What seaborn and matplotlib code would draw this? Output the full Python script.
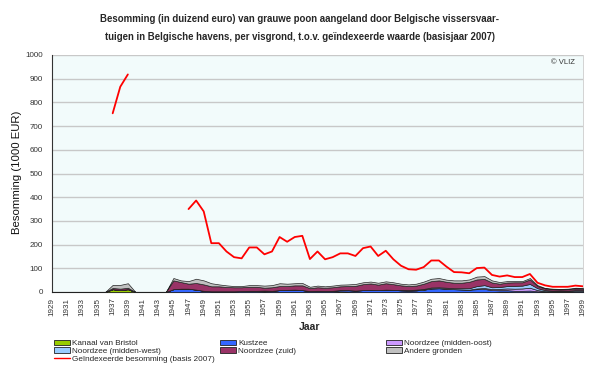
import numpy as np
import pandas as pd
import matplotlib
matplotlib.use("Agg")
import matplotlib.pyplot as plt
import matplotlib.patches as mpatches
import matplotlib.lines as mlines
import seaborn as sns

years = list(range(1929, 2000))

# 1929-1935 (7), 1936, 1937-1939, 1940-1944 (5), 1945-1999 (55)
kanaal_van_bristol = ([0]*7 + [0] + [12, 8, 12] + [0]*5 +
    [0, 0, 0, 0, 0, 0, 0, 0, 0, 0, 0, 0, 2, 0, 0, 0, 0, 0, 0, 0, 0, 0, 3, 2, 0, 0,
     0, 0, 0, 0, 0, 0, 0, 0, 0, 0, 0, 0, 0, 0, 0, 0, 0, 2, 2, 0, 0, 0, 0, 0, 0, 0, 0, 0, 0])
kustzee = ([0]*7 + [0] + [0, 0, 0] + [0]*5 +
    [12, 14, 14, 10, 5, 3, 3, 3, 3, 4, 5, 5, 4, 5, 8, 9, 10, 8, 4, 5, 4, 5, 5, 6, 6,
     8, 9, 8, 10, 9, 7, 6, 7, 10, 15, 16, 14, 12, 11, 10, 12, 13, 8, 6, 6, 5, 5, 6, 3, 2, 2, 2, 2, 3, 3])
noordzee_midden_oost = ([0]*7 + [0] + [0, 0, 0] + [0]*5 +
    [0]*40 + [3, 4, 4, 5, 7, 9, 10, 12, 5, 2, 1, 1, 1, 1, 1])
noordzee_midden_west = ([0]*7 + [0] + [0, 0, 0] + [0]*5 +
    [0]*30 + [2, 2, 3, 3, 4, 4, 4, 4, 5, 6, 10, 12, 8, 8, 10, 12, 12, 16, 8, 4, 3, 3, 3, 4, 4])
noordzee_zuid = ([0]*7 + [0] + [5, 6, 6] + [0]*5 +
    [37, 28, 21, 28, 27, 21, 21, 18, 17, 16, 17, 17, 12, 15, 17, 16, 18, 20, 12, 15, 14, 15, 16, 17, 20,
     25, 27, 23, 27, 24, 19, 17, 17, 22, 27, 29, 25, 23, 23, 27, 28, 26, 20, 14, 15, 15, 14, 19, 9, 7, 6, 5, 6, 7, 6])
andere_gronden = ([0]*7 + [0] + [13, 16, 19] + [0]*5 +
    [10, 7, 11, 18, 17, 13, 8, 7, 5, 5, 7, 7, 9, 9, 12, 10, 9, 10, 6, 7, 6, 7, 7, 7, 8,
     8, 8, 8, 8, 8, 7, 7, 8, 9, 10, 10, 9, 10, 10, 10, 12, 12, 9, 7, 6, 5, 5, 6, 4, 2, 2, 2, 2, 3, 3])

nan = np.nan
geindexeerd = ([nan]*7 + [nan] + [754, 866, 918] + [nan]*7 +
    [350, 386, 340, 206, 206, 171, 147, 142, 188, 188, 159, 171, 232, 212, 232, 237, 139, 171, 138, 147,
     163, 163, 152, 185, 192, 152, 174, 138, 111, 96, 94, 105, 133, 133, 107, 84, 83, 79, 101, 103,
     72, 65, 70, 63, 63, 76, 39, 28, 22, 22, 22, 27, 24])

series_names = ["Kanaal van Bristol", "Kustzee", "Noordzee (midden-oost)",
                "Noordzee (midden-west)", "Noordzee (zuid)", "Andere gronden"]
series_colors = ["#99cc00", "#3366ff", "#cc99ff", "#99ccff", "#993366", "#c0c0c0"]
line_name = "Geïndexeerde besomming (basis 2007)"

sns.set_theme(style="white")
plt.rcParams["font.family"] = ["Liberation Sans", "DejaVu Sans"]

fig = plt.figure(figsize=(6.0, 3.68), dpi=100)
ax = fig.add_axes([52/600, 1-292/368, (583-52)/600, (292-55)/368])
ax.set_facecolor("#f2fbfb")

ax.stackplot(years, kanaal_van_bristol, kustzee, noordzee_midden_oost,
             noordzee_midden_west, noordzee_zuid, andere_gronden,
             colors=series_colors, edgecolor="#222222", linewidth=0.5, zorder=3)

df = pd.DataFrame({"Jaar": years, "Waarde": geindexeerd})
df["seg"] = np.where(df["Jaar"] < 1945, 0, 1)
df = df.dropna()
sns.lineplot(data=df, x="Jaar", y="Waarde", units="seg", estimator=None,
             color="#ff0000", linewidth=1.3, ax=ax, zorder=4, legend=False)

ax.set_xlim(1929, 1999)
ax.set_ylim(0, 1000)
ax.set_yticks(range(0, 1001, 100))
ax.set_xticks(range(1929, 2000, 2))
ax.set_xticklabels([str(y) for y in range(1929, 2000, 2)], rotation=90, fontsize=5.8, color="#333333")
ax.tick_params(axis="y", labelsize=5.8, labelcolor="#333333", length=3, width=0.6, color="#555555")
ax.tick_params(axis="x", length=2, width=0.6, color="#555555", pad=2)
ax.yaxis.grid(True, color="#c8c8c8", linewidth=1.0)
ax.set_axisbelow(True)
ax.spines["top"].set_visible(False)
ax.spines["right"].set_color("#cccccc")
ax.spines["right"].set_linewidth(0.6)
ax.spines["left"].set_color("#333333")
ax.spines["left"].set_linewidth(0.8)
ax.spines["bottom"].set_color("#333333")
ax.spines["bottom"].set_linewidth(0.8)

ax.set_xlabel("")
ax.set_ylabel("")
fig.text(17/600, 1-172/368, "Besomming (1000 EUR)", rotation=90, ha="center", va="center",
         fontsize=8.2, color="#111111")
fig.text(310/600, 1-327/368, "Jaar", ha="center", va="center", fontsize=7.5, fontweight="bold")

fig.text(0.5, 1-28/368, "Besomming (in duizend euro) van grauwe poon aangeland door Belgische vissersvaar-\n"
         "tuigen in Belgische havens, per visgrond, t.o.v. geïndexeerde waarde (basisjaar 2007)",
         ha="center", va="center", fontsize=6.9, fontweight="bold", linespacing=2.0)
ax.text(0.985, 0.985, "© VLIZ", transform=ax.transAxes, ha="right", va="top", fontsize=5.5, color="#333333")

patches = [mpatches.Patch(facecolor=c, edgecolor="#222222", linewidth=0.6, label=n)
           for n, c in zip(series_names, series_colors)]
redline = mlines.Line2D([], [], color="#ff0000", linewidth=1.0, label=line_name)
columns = [([patches[0], patches[3], redline], 54),
           ([patches[1], patches[4]], 220),
           ([patches[2], patches[5]], 386)]
for hs, x0 in columns:
    fig.legend(handles=hs, loc="upper left", bbox_to_anchor=(x0/600, 1-339.5/368), ncol=1,
               frameon=False, fontsize=5.9, handlelength=2.0, handleheight=0.6, handletextpad=0.25,
               labelspacing=0.05, borderaxespad=0, borderpad=0)

fig.savefig("out.png", dpi=100, facecolor="white")
